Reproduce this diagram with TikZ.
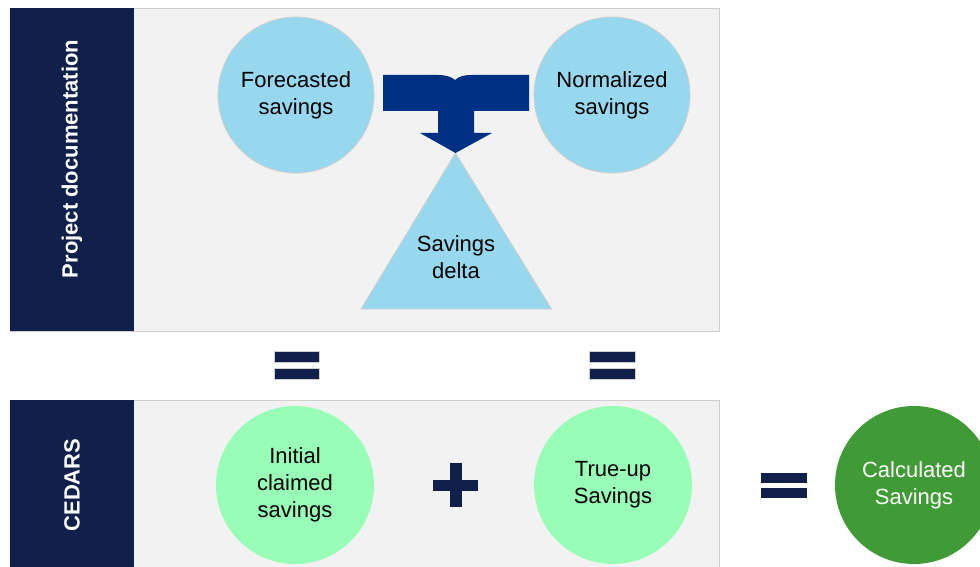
\documentclass[tikz,border=0pt]{standalone}
\usepackage{fontspec}
\setmainfont{Liberation Sans}
\definecolor{navy}{HTML}{10204B}
\definecolor{arrowblue}{HTML}{003082}
\definecolor{lightblue}{HTML}{98D8EE}
\definecolor{lightgreen}{HTML}{98FDB6}
\definecolor{darkgreen}{HTML}{409B36}
\definecolor{panelgray}{HTML}{F2F2F2}
\definecolor{bordergray}{HTML}{CFCFCF}
\begin{document}
\begin{tikzpicture}[x=1pt,y=-1pt,
  txt/.style={font=\fontsize{22}{27}\selectfont, align=center, inner sep=0pt},
  panel/.style={fill=panelgray, draw=bordergray, line width=0.8pt},
  sidebar/.style={fill=navy},
  sidetext/.style={txt, rotate=90, text=white, font=\fontsize{22}{27}\selectfont\bfseries},
  bluecirc/.style={txt, circle, minimum size=156pt, fill=lightblue, draw=bordergray, line width=0.8pt},
  greencirc/.style={txt, circle, minimum size=158pt, fill=lightgreen},
  calccirc/.style={txt, circle, minimum size=158pt, fill=darkgreen, text=white},
  sym/.style={fill=navy, draw=bordergray, line width=0.6pt}
]
\useasboundingbox (0,0) rectangle (980,567);
\fill[white] (0,0) rectangle (980,567);
% top panel
\draw[panel] (10,8) rectangle (719,331);
\fill[sidebar] (10,8) rectangle (134,331);
\node[sidetext] (pd) at (72,159) {Project documentation};
% bottom panel
\draw[panel] (10,400) rectangle (719,590);
\fill[sidebar] (10,400) rectangle (134,567);
\node[sidetext] (ced) at (72,485) {CEDARS};
% top circles
\node[bluecirc] (fc) at (296,95) {Forecasted\\savings};
\node[bluecirc] (ns) at (612,95) {Normalized\\savings};
% triangle
\filldraw[fill=lightblue, draw=bordergray, line width=0.8pt] (455.5,153) -- (551.5,309) -- (361,309) -- cycle;
\node[txt] (sd) at (456,257) {Savings\\delta};
% merge arrow
\fill[arrowblue] (383,75) -- (438,75) .. controls (446,75) and (452,77) .. (455,80)
  .. controls (459,76) and (465,75) .. (472,75) -- (529,75) -- (529,111) -- (474,111)
  -- (474,133) -- (492,133) -- (455.5,153) -- (420,133) -- (438,133) -- (438,111)
  -- (383,111) -- cycle;
% equals between panels
\draw[sym] (274,351) rectangle (319,362);
\draw[sym] (274,368) rectangle (319,379);
\draw[sym] (589,351) rectangle (635,362);
\draw[sym] (589,368) rectangle (635,379);
% bottom circles
\node[greencirc] (ic) at (295,485) {Initial\\claimed\\savings};
\node[greencirc] (tu) at (613,485) {True-up\\Savings};
\node[calccirc] (cs) at (914,485) {Calculated\\Savings};
% plus
\fill[navy] (449.5,463) rectangle (461.5,507);
\fill[navy] (433,479.5) rectangle (478,491);
% equals right
\fill[navy] (761,473) rectangle (807,483);
\fill[navy] (761,488) rectangle (807,498);
\end{tikzpicture}
\end{document}
